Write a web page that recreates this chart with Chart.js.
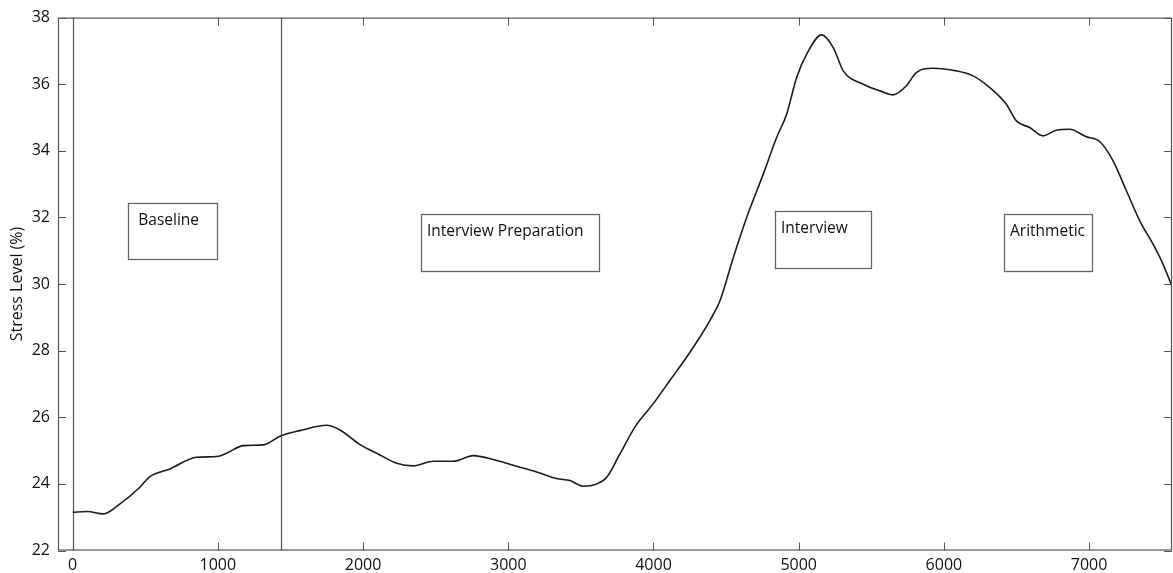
<!DOCTYPE html>
<html>
<head>
<meta charset="utf-8">
<script src="https://cdn.jsdelivr.net/npm/chart.js@4.4.1/dist/chart.umd.min.js"></script>
<style>
  html, body { margin: 0; padding: 0; background: #ffffff; }
  #wrap { width: 1173px; height: 573px; position: relative; }
</style>
</head>
<body>
<div id="wrap"><canvas id="c"></canvas></div>
<script>
// ---- data ----
const timeValues = [0, 100, 211, 326, 463, 532, 670, 854, 992, 1060, 1175, 1313, 1428, 1565, 1749, 1841,
  1979, 2094, 2231, 2346, 2484, 2621, 2759, 2897, 3034, 3195, 3333, 3425, 3517, 3609, 3678, 3769,
  3873, 3999, 4114, 4229, 4320, 4389, 4458, 4550, 4642, 4756, 4848, 4917, 4986, 5055, 5158, 5238,
  5307, 5445, 5560, 5650, 5741, 5810, 5925, 6086, 6201, 6316, 6430, 6499, 6591, 6683, 6775, 6866,
  6981, 7073, 7165, 7257, 7349, 7440, 7509, 7578];
const stressValues = [23.15, 23.17, 23.10, 23.40, 23.90, 24.22, 24.45, 24.80, 24.82, 24.92, 25.15, 25.17, 25.43, 25.60, 25.76, 25.62,
  25.18, 24.92, 24.62, 24.54, 24.68, 24.68, 24.85, 24.73, 24.56, 24.36, 24.16, 24.10, 23.93, 24.00, 24.20, 24.90,
  25.71, 26.41, 27.11, 27.81, 28.41, 28.91, 29.50, 30.80, 32.00, 33.30, 34.40, 35.10, 36.20, 36.90, 37.48, 37.10,
  36.40, 36.00, 35.80, 35.68, 35.95, 36.35, 36.48, 36.40, 36.25, 35.90, 35.40, 34.90, 34.70, 34.45, 34.62, 34.65,
  34.42, 34.28, 33.70, 32.80, 31.90, 31.20, 30.60, 29.85];
const xTickValues = [0, 1000, 2000, 3000, 4000, 5000, 6000, 7000];
const yTickValues = [22, 24, 26, 28, 30, 32, 34, 36, 38];
const phaseBoundaries = [0, 1434];
const phaseLabels = ['Baseline', 'Interview Preparation', 'Interview', 'Arithmetic'];
const phaseBoxX0 = [383, 2399, 4837, 6414];
const phaseBoxX1 = [996, 3625, 5498, 7020];
const phaseBoxYTop = [32.44, 32.11, 32.20, 32.10];
const phaseBoxYBottom = [30.76, 30.41, 30.50, 30.40];
const yAxisTitle = 'Stress Level (%)';

// ---- build ----
const points = timeValues.map((t, i) => ({ x: t, y: stressValues[i] }));
const FONT = '"Open Sans", "Noto Sans", sans-serif';

const framePlugin = {
  id: 'frameTicks',
  beforeDatasetsDraw(chart) {
    const { ctx, chartArea: a, scales: { x } } = chart;
    ctx.save();
    ctx.strokeStyle = '#555';
    ctx.lineWidth = 1.2;
    phaseBoundaries.forEach(v => {
      const px = Math.round(x.getPixelForValue(v)) + 0.5;
      ctx.beginPath(); ctx.moveTo(px, a.top); ctx.lineTo(px, a.bottom); ctx.stroke();
    });
    ctx.restore();
  },
  afterDatasetsDraw(chart) {
    const { ctx, chartArea: a, scales: { x, y } } = chart;
    ctx.save();
    // annotation boxes
    ctx.strokeStyle = '#666';
    ctx.lineWidth = 1.3;
    ctx.font = '15.5px ' + FONT;
    ctx.fillStyle = '#111';
    ctx.textBaseline = 'middle';
    phaseLabels.forEach((lab, i) => {
      const x0 = x.getPixelForValue(phaseBoxX0[i]);
      const x1 = x.getPixelForValue(phaseBoxX1[i]);
      const y0 = y.getPixelForValue(phaseBoxYTop[i]);
      const y1 = y.getPixelForValue(phaseBoxYBottom[i]);
      ctx.strokeRect(Math.round(x0) + 0.5, Math.round(y0) + 0.5, Math.round(x1 - x0), Math.round(y1 - y0));
      ctx.fillText(lab, x0 + (i === 0 ? 10 : 6), y0 + 17.5);
    });
    // frame
    ctx.strokeStyle = '#555';
    ctx.lineWidth = 1.2;
    ctx.strokeRect(a.left + 0.5, a.top + 0.5, a.right - a.left - 1, a.bottom - a.top - 1);
    // inward ticks
    const tl = 8;
    ctx.lineWidth = 1;
    xTickValues.forEach(v => {
      const px = Math.round(x.getPixelForValue(v)) + 0.5;
      ctx.beginPath();
      ctx.moveTo(px, a.bottom); ctx.lineTo(px, a.bottom - tl);
      ctx.moveTo(px, a.top); ctx.lineTo(px, a.top + tl);
      ctx.stroke();
    });
    yTickValues.forEach(v => {
      const py = Math.round(y.getPixelForValue(v)) + 0.5;
      ctx.beginPath();
      ctx.moveTo(a.left, py); ctx.lineTo(a.left + tl, py);
      ctx.moveTo(a.right, py); ctx.lineTo(a.right - tl, py);
      ctx.stroke();
    });
    ctx.restore();
  }
};

new Chart(document.getElementById('c'), {
  type: 'line',
  data: {
    datasets: [{
      data: points,
      borderColor: '#1c1c1c',
      borderWidth: 1.6,
      pointRadius: 0,
      fill: false,
      cubicInterpolationMode: 'monotone'
    }]
  },
  options: {
    responsive: true,
    maintainAspectRatio: false,
    animation: false,
    events: [],
    layout: { padding: { left: 0, top: 17, right: 1, bottom: 0 } },
    plugins: { legend: { display: false }, tooltip: { enabled: false } },
    scales: {
      x: {
        type: 'linear',
        min: -101,
        max: 7571,
        grid: { display: false, drawTicks: false },
        border: { display: false },
        afterBuildTicks: s => { s.ticks = xTickValues.map(v => ({ value: v })); },
        afterFit: s => { s.height = 22.5; },
        ticks: { color: '#111', font: { family: FONT, size: 16 }, padding: 5, maxRotation: 0, autoSkip: false,
                 callback: v => String(v) }
      },
      y: {
        type: 'linear',
        min: 22,
        max: 38,
        grid: { display: false, drawTicks: false },
        border: { display: false },
        afterBuildTicks: s => { s.ticks = yTickValues.map(v => ({ value: v })); },
        afterFit: s => { s.width = 58; },
        ticks: { color: '#111', font: { family: FONT, size: 16 }, padding: 8, callback: v => String(v) },
        title: { display: true, text: yAxisTitle, color: '#111', font: { family: FONT, size: 16 }, padding: { top: 8, bottom: 0 } }
      }
    }
  },
  plugins: [framePlugin]
});
</script>
</body>
</html>
